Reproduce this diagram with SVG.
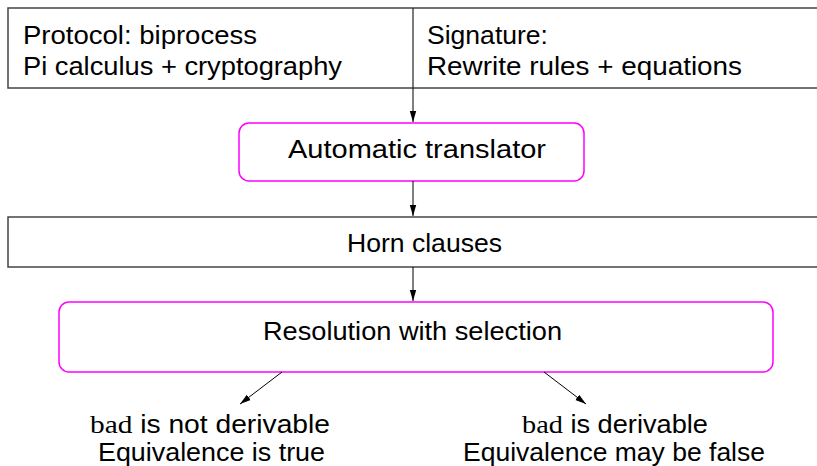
<svg xmlns="http://www.w3.org/2000/svg" width="817" height="466" viewBox="0 0 817 466">
<style>
.t{font-family:"Liberation Sans",Arial,sans-serif;font-size:25px;fill:#000}
.s{font-family:"Liberation Serif","Times New Roman",serif;font-size:26px;fill:#000}
.box{fill:#fff;stroke:#444;stroke-width:1.5}
.rbox{fill:#fff;stroke:#ff00ff;stroke-width:1.5}
.c{stroke:#000;stroke-width:1;fill:none;marker-end:url(#ah)}
</style>
<defs>
<marker id="ah" markerWidth="12" markerHeight="8" refX="11" refY="4" orient="auto" markerUnits="userSpaceOnUse">
<path d="M0,0.8 L11,4 L0,7.2 z" fill="#000"/>
</marker>
</defs>
<rect width="817" height="466" fill="#fff"/>
<g id="input">
<rect class="box" x="8" y="8" width="820" height="80"/>
<line x1="413" y1="8" x2="413" y2="88" stroke="#222" stroke-width="1.2"/>
<text class="t" x="23" y="44" textLength="234" lengthAdjust="spacingAndGlyphs">Protocol: biprocess</text>
<text class="t" x="23" y="75" textLength="319" lengthAdjust="spacingAndGlyphs">Pi calculus + cryptography</text>
<text class="t" x="427" y="44" textLength="121" lengthAdjust="spacingAndGlyphs">Signature:</text>
<text class="t" x="427" y="75" textLength="315" lengthAdjust="spacingAndGlyphs">Rewrite rules + equations</text>
</g>
<g id="translator">
<rect class="rbox" x="239" y="123" width="345" height="58" rx="10"/>
<text class="t" x="288" y="158" textLength="258" lengthAdjust="spacingAndGlyphs">Automatic translator</text>
</g>
<g id="horn">
<rect class="box" x="8" y="217" width="820" height="50"/>
<text class="t" x="347" y="252" textLength="155" lengthAdjust="spacingAndGlyphs">Horn clauses</text>
</g>
<g id="resolution">
<rect class="rbox" x="59" y="302" width="714" height="70" rx="10"/>
<text class="t" x="263" y="340" textLength="299" lengthAdjust="spacingAndGlyphs">Resolution with selection</text>
</g>
<g id="notderivable">
<text class="t" x="90" y="433" textLength="240" lengthAdjust="spacingAndGlyphs"><tspan class="s">bad</tspan> is not derivable</text>
<text class="t" x="98" y="461" textLength="227" lengthAdjust="spacingAndGlyphs">Equivalence is true</text>
</g>
<g id="derivable">
<text class="t" x="522" y="433" textLength="186" lengthAdjust="spacingAndGlyphs"><tspan class="s">bad</tspan> is derivable</text>
<text class="t" x="463" y="461" textLength="302" lengthAdjust="spacingAndGlyphs">Equivalence may be false</text>
</g>
<g id="connectors">
<line class="c" x1="413" y1="88" x2="413" y2="122"/>
<line class="c" x1="413" y1="181" x2="413" y2="216"/>
<line class="c" x1="413" y1="267" x2="413" y2="301"/>
<line class="c" x1="282" y1="372" x2="240" y2="404"/>
<line class="c" x1="544" y1="372" x2="586" y2="404"/>
</g>
</svg>
